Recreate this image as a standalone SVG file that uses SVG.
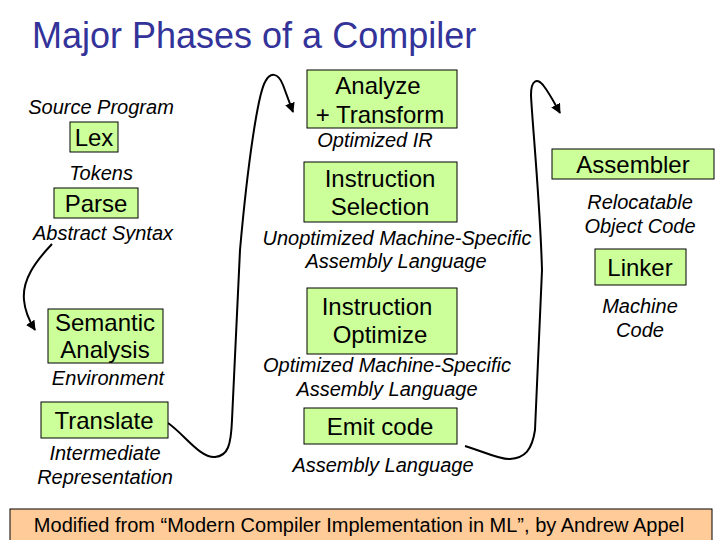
<svg xmlns="http://www.w3.org/2000/svg" width="720" height="540" viewBox="0 0 720 540">
<defs>
<marker id="ah" viewBox="0 0 10 10" refX="9" refY="5" markerWidth="5" markerHeight="5" orient="auto" markerUnits="strokeWidth">
<path d="M0,0 L10,5 L0,10 z" fill="#000"/>
</marker>
<style>
.box{fill:#ccff99;stroke:#000;stroke-width:1}
.bt{font-family:"Liberation Sans",Arial,sans-serif;font-size:24px;fill:#000;text-anchor:middle}
.lb{font-family:"Liberation Sans",Arial,sans-serif;font-size:20px;font-style:italic;fill:#000;text-anchor:middle}
.cn{fill:none;stroke:#000;stroke-width:2}
</style>
</defs>
<rect width="720" height="540" fill="#fff"/>
<text x="32" y="48" font-family="'Liberation Sans',Arial,sans-serif" font-size="36" fill="#333399">Major Phases of a Compiler</text>

<g id="connectors">
<path class="cn" marker-end="url(#ah)" d="M52,244 C 35,262 22,280 24,300 C 25,313 30,322 35,330"/>
<path class="cn" marker-end="url(#ah)" d="M168,423 C 185,435 200,458 215,457 C 228,456 231,445 232,420 L 240,250 C 248,160 258,95 265,82 C 270,72 278,72 283,85 L 293,112"/>
<path class="cn" marker-end="url(#ah)" d="M465,446 C 485,452 500,460 510,459 C 525,458 532,450 535,430 L 542,270 C 540,200 532,120 531,95 C 531,80 537,78 543,85 C 550,94 555,104 560,113"/>
</g>

<g id="labels">
<text class="lb" x="101" y="114">Source Program</text>
<text class="lb" x="101" y="180">Tokens</text>
<text class="lb" x="103" y="240">Abstract Syntax</text>
<text class="lb" x="108" y="385">Environment</text>
<text class="lb" x="105" y="460">Intermediate</text>
<text class="lb" x="105" y="484">Representation</text>
<text class="lb" x="375" y="147">Optimized IR</text>
<text class="lb" x="397" y="245">Unoptimized Machine-Specific</text>
<text class="lb" x="396" y="268">Assembly Language</text>
<text class="lb" x="387" y="372">Optimized Machine-Specific</text>
<text class="lb" x="387" y="396">Assembly Language</text>
<text class="lb" x="383" y="472">Assembly Language</text>
<text class="lb" x="640" y="209">Relocatable</text>
<text class="lb" x="640" y="233">Object Code</text>
<text class="lb" x="640" y="313">Machine</text>
<text class="lb" x="640" y="337">Code</text>
</g>

<g id="lex"><rect class="box" x="70" y="122" width="48" height="30"/><text class="bt" x="94" y="146">Lex</text></g>
<g id="parse"><rect class="box" x="54" y="188" width="84" height="30"/><text class="bt" x="96" y="212">Parse</text></g>
<g id="semantic"><rect class="box" x="48" y="309" width="115" height="54"/><text class="bt" x="105" y="331">Semantic</text><text class="bt" x="105" y="358">Analysis</text></g>
<g id="translate"><rect class="box" x="41" y="402" width="127" height="36"/><text class="bt" x="104" y="429">Translate</text></g>
<g id="analyze"><rect class="box" x="307" y="70" width="150" height="58"/><text class="bt" x="378" y="94">Analyze</text><text class="bt" x="380" y="123">+ Transform</text></g>
<g id="isel"><rect class="box" x="304" y="162" width="153" height="60"/><text class="bt" x="380" y="187">Instruction</text><text class="bt" x="380" y="215">Selection</text></g>
<g id="iopt"><rect class="box" x="307" y="288" width="150" height="66"/><text class="bt" x="377" y="315">Instruction</text><text class="bt" x="380" y="343">Optimize</text></g>
<g id="emit"><rect class="box" x="304" y="408" width="153" height="36"/><text class="bt" x="380" y="435">Emit code</text></g>
<g id="assembler"><rect class="box" x="552" y="149" width="162" height="30"/><text class="bt" x="633" y="173">Assembler</text></g>
<g id="linker"><rect class="box" x="595" y="249" width="91" height="36"/><text class="bt" x="640" y="276">Linker</text></g>

<g id="footer"><rect x="10" y="509" width="702" height="32" fill="#ffcc99" stroke="#000" stroke-width="1"/>
<text x="359" y="532" font-family="'Liberation Sans',Arial,sans-serif" font-size="20" text-anchor="middle" fill="#000">Modified from “Modern Compiler Implementation in ML”, by Andrew Appel</text></g>
</svg>
